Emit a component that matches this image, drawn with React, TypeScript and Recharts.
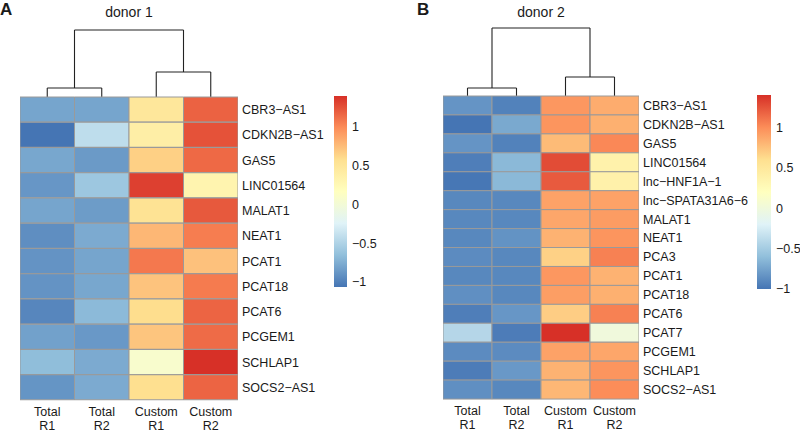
import React from "react";
import {
  BarChart,
  Bar,
  XAxis,
  YAxis,
  Cell,
  ComposedChart,
  ReferenceLine,
  ReferenceArea,
} from "recharts";

// ---------- data ----------
const columnLabels = ["Total R1", "Total R2", "Custom R1", "Custom R2"];

const genesA = [
  "CBR3−AS1",
  "CDKN2B−AS1",
  "GAS5",
  "LINC01564",
  "MALAT1",
  "NEAT1",
  "PCAT1",
  "PCAT18",
  "PCAT6",
  "PCGEM1",
  "SCHLAP1",
  "SOCS2−AS1",
];

// columns: Total R1, Total R2, Custom R1, Custom R2 (row z-scores)
const valuesA = [
  [-0.8, -0.8, 0.48, 1.18],
  [-1.065, -0.42, 0.39, 1.25],
  [-0.79, -0.86, 0.66, 1.15],
  [-0.88, -0.59, 1.33, 0.31],
  [-0.8, -0.85, 0.54, 1.22],
  [-0.925, -0.77, 0.78, 1.06],
  [-0.9, -0.8, 1.08, 0.73],
  [-0.9, -0.79, 0.72, 1.07],
  [-0.97, -0.68, 0.59, 1.17],
  [-0.82, -0.87, 0.71, 1.14],
  [-0.66, -0.77, 0.07, 1.4],
  [-0.89, -0.77, 0.58, 1.17],
];

const genesB = [
  "CBR3−AS1",
  "CDKN2B−AS1",
  "GAS5",
  "LINC01564",
  "lnc−HNF1A−1",
  "lnc−SPATA31A6−6",
  "MALAT1",
  "NEAT1",
  "PCA3",
  "PCAT1",
  "PCAT18",
  "PCAT6",
  "PCAT7",
  "PCGEM1",
  "SCHLAP1",
  "SOCS2−AS1",
];

const valuesB = [
  [-0.83, -0.93, 0.95, 0.85],
  [-1.0, -0.72, 0.96, 0.83],
  [-0.83, -0.93, 0.78, 1.02],
  [-0.95, -0.63, 1.28, 0.37],
  [-0.99, -0.63, 1.22, 0.38],
  [-0.9, -0.9, 0.9, 0.9],
  [-0.9, -0.9, 0.88, 0.93],
  [-0.9, -0.84, 0.82, 0.96],
  [-0.88, -0.9, 0.67, 1.05],
  [-0.9, -0.9, 0.95, 0.82],
  [-0.86, -0.9, 0.92, 0.83],
  [-0.95, -0.82, 0.69, 1.05],
  [-0.42, -0.96, 1.4, 0.0],
  [-0.88, -0.88, 0.9, 0.88],
  [-0.96, -0.81, 0.82, 0.96],
  [-0.86, -0.9, 0.8, 1.0],
];

// dendrogram merge heights: [Total pair, Custom pair, root]
const mergeHeightsA = [9, 25, 67];
const mergeHeightsB = [8, 19, 68];

const legendTicks = [-1, -0.5, 0, 0.5, 1];

// ---------- styling helpers ----------
const palette = ["#4575B4", "#91BFDB", "#E0F3F8", "#FFFFBF", "#FEE090", "#FC8D59", "#D73027"];
const FONT = '"Liberation Sans", Arial, Helvetica, sans-serif';
const TEXT = "#1a1a1a";

function hexToRgb(h: string) {
  const n = parseInt(h.slice(1), 16);
  return [(n >> 16) & 255, (n >> 8) & 255, n & 255];
}

function colorFor(v: number, min: number, max: number) {
  let t = (v - min) / (max - min);
  t = Math.max(0, Math.min(1, t));
  const pos = t * (palette.length - 1);
  const i = Math.min(Math.floor(pos), palette.length - 2);
  const f = pos - i;
  const a = hexToRgb(palette[i]);
  const b = hexToRgb(palette[i + 1]);
  const c = a.map((x, k) => Math.round(x + (b[k] - x) * f));
  return `rgb(${c[0]},${c[1]},${c[2]})`;
}

const fmtTick = (v: number) => (v < 0 ? "−" + String(Math.abs(v)) : String(v));

const ColTick = (props: any) => {
  const { x, y, payload } = props;
  const label = columnLabels[Math.floor(payload.value)] || "";
  const [l1, l2] = label.split(" ");
  return (
    <g>
      <text x={x} y={y + 16} textAnchor="middle" fontSize={12.5} fill={TEXT} fontFamily={FONT}>
        {l1}
      </text>
      <text x={x} y={y + 30} textAnchor="middle" fontSize={12.5} fill={TEXT} fontFamily={FONT}>
        {l2}
      </text>
    </g>
  );
};

// ---------- components ----------
function Heatmap({
  genes,
  values,
  marginLeft,
  plotW,
  top,
  bottom,
  labelW,
}: {
  genes: string[];
  values: number[][];
  marginLeft: number;
  plotW: number;
  top: number;
  bottom: number;
  labelW: number;
}) {
  const flat = values.flat();
  const min = Math.min(...flat);
  const max = Math.max(...flat);
  const data = genes.map((g) => ({ gene: g, c0: 1, c1: 1, c2: 1, c3: 1 }));
  const width = marginLeft + plotW + labelW + 2;
  const xAxisH = 432 - bottom;
  return (
    <BarChart
      layout="vertical"
      width={width}
      height={432}
      data={data}
      margin={{ top, left: marginLeft, right: 2, bottom: 0 }}
      barCategoryGap={0}
      barGap={0}
    >
      <XAxis
        type="number"
        domain={[0, 4]}
        ticks={[0.5, 1.5, 2.5, 3.5]}
        interval={0}
        axisLine={false}
        tickLine={false}
        tickSize={0}
        tickMargin={0}
        height={xAxisH}
        tick={<ColTick />}
        allowDataOverflow
      />
      <YAxis
        type="category"
        dataKey="gene"
        orientation="right"
        width={labelW}
        axisLine={false}
        tickLine={false}
        tickSize={0}
        tickMargin={4}
        interval={0}
        tick={{ fontSize: 12.5, fill: TEXT, fontFamily: FONT }}
      />
      {columnLabels.map((c, ci) => (
        <Bar
          key={c}
          dataKey={`c${ci}`}
          stackId="s"
          isAnimationActive={false}
          stroke="#9a9a9a"
          strokeWidth={1}
        >
          {data.map((_, r) => (
            <Cell key={r} fill={colorFor(values[r][ci], min, max)} />
          ))}
        </Bar>
      ))}
    </BarChart>
  );
}

function Dendrogram({
  heights,
  marginLeft,
  plotW,
  top,
  bottom,
}: {
  heights: number[];
  marginLeft: number;
  plotW: number;
  top: number;
  bottom: number;
}) {
  const [h1, h2, h3] = heights;
  const segs = [
    [0.5, 0, 0.5, h1],
    [1.5, 0, 1.5, h1],
    [0.5, h1, 1.5, h1],
    [2.5, 0, 2.5, h2],
    [3.5, 0, 3.5, h2],
    [2.5, h2, 3.5, h2],
    [1, h1, 1, h3],
    [3, h2, 3, h3],
    [1, h3, 3, h3],
  ];
  return (
    <ComposedChart
      width={marginLeft + plotW + 4}
      height={bottom + 2}
      data={[{ x: 0 }, { x: 4 }]}
      margin={{ top, left: marginLeft, right: 4, bottom: 2 }}
    >
      <XAxis type="number" dataKey="x" domain={[0, 4]} hide allowDataOverflow />
      <YAxis type="number" domain={[0, h3]} hide allowDataOverflow />
      {segs.map((s, i) => (
        <ReferenceLine
          key={i}
          segment={[
            { x: s[0], y: s[1] },
            { x: s[2], y: s[3] },
          ]}
          stroke="#222"
          strokeWidth={1.1}
          ifOverflow="visible"
        />
      ))}
    </ComposedChart>
  );
}

function ColorBar({
  values,
  id,
  barW,
  top,
  bottom,
}: {
  values: number[][];
  id: string;
  barW: number;
  top: number;
  bottom: number;
}) {
  const flat = values.flat();
  const min = Math.min(...flat);
  const max = Math.max(...flat);
  return (
    <ComposedChart
      width={barW + 47}
      height={432}
      data={[{ x: 0 }, { x: 1 }]}
      margin={{ top, left: 0, right: 0, bottom: 432 - bottom }}
    >
      <defs>
        <linearGradient id={id} x1="0" y1="1" x2="0" y2="0">
          {palette.map((c, i) => (
            <stop key={i} offset={`${(i / (palette.length - 1)) * 100}%`} stopColor={c} />
          ))}
        </linearGradient>
      </defs>
      <XAxis type="number" dataKey="x" domain={[0, 1]} hide allowDataOverflow />
      <YAxis
        type="number"
        domain={[min, max]}
        orientation="right"
        ticks={legendTicks}
        width={47}
        axisLine={false}
        tickLine={false}
        tickSize={0}
        tickMargin={5}
        tickFormatter={fmtTick}
        tick={{ fontSize: 12.5, fill: TEXT, fontFamily: FONT, textAnchor: "start" }}
        allowDataOverflow
      />
      <ReferenceArea
        x1={0}
        x2={1}
        y1={min}
        y2={max}
        fill={`url(#${id})`}
        fillOpacity={1}
        stroke="none"
        ifOverflow="visible"
      />
    </ComposedChart>
  );
}

const abs = (left: number, top: number): React.CSSProperties => ({
  position: "absolute",
  left,
  top,
});

export default function App() {
  return (
    <div
      style={{
        position: "absolute",
        left: 0,
        top: 0,
        width: 800,
        height: 432,
        background: "#fff",
        fontFamily: FONT,
        color: TEXT,
        overflow: "hidden",
      }}
    >
      {/* Panel A */}
      <div style={{ ...abs(0, 0.5), fontSize: 17, fontWeight: "bold", lineHeight: "18px" }}>A</div>
      <div style={{ ...abs(29, 3), width: 200, textAlign: "center", fontSize: 14, lineHeight: "18px" }}>
        donor 1
      </div>
      <div style={abs(0, 0)}>
        <Dendrogram heights={mergeHeightsA} marginLeft={20} plotW={218} top={30} bottom={97} />
      </div>
      <div style={abs(0, 0)}>
        <Heatmap genes={genesA} values={valuesA} marginLeft={20} plotW={218} top={97} bottom={400} labelW={90} />
      </div>
      <div style={abs(334, 0)}>
        <ColorBar values={valuesA} id="gradA" barW={13} top={96} bottom={287} />
      </div>

      {/* Panel B */}
      <div style={{ ...abs(417, 0.5), fontSize: 17, fontWeight: "bold", lineHeight: "18px" }}>B</div>
      <div style={{ ...abs(441, 3), width: 200, textAlign: "center", fontSize: 14, lineHeight: "18px" }}>
        donor 2
      </div>
      <div style={abs(400, 0)}>
        <Dendrogram heights={mergeHeightsB} marginLeft={43} plotW={196} top={28} bottom={96} />
      </div>
      <div style={abs(400, 0)}>
        <Heatmap genes={genesB} values={valuesB} marginLeft={43} plotW={196} top={96} bottom={399} labelW={112} />
      </div>
      <div style={abs(757, 0)}>
        <ColorBar values={valuesB} id="gradB" barW={14} top={95} bottom={289} />
      </div>
    </div>
  );
}
